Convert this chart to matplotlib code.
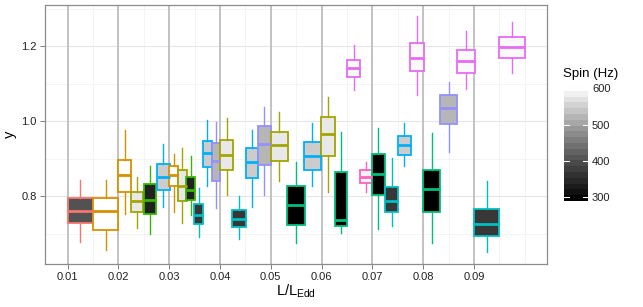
import matplotlib
matplotlib.use('Agg')
import matplotlib.pyplot as plt
from matplotlib.colors import ListedColormap, Normalize
import numpy as np

plt.rcParams['font.family'] = ['Liberation Sans', 'DejaVu Sans']
plt.rcParams['mathtext.default'] = 'regular'

# one colour (and spin) per source
group_colors = ['#F8766D', '#D89000', '#A3A500', '#39B600', '#00BF7D',
                '#00BFC4', '#00B0F6', '#9590FF', '#E76BF3', '#FF62BC']
group_spin = [401, 606, 581, 330, 290, 363, 549, 524, 600, 590]

# boxes, left to right
box_x = [0.0125, 0.0175, 0.0212, 0.0237, 0.0262, 0.0288, 0.0309, 0.0326,
         0.0342, 0.0358, 0.0375, 0.0392, 0.0413, 0.0438, 0.0463, 0.0487,
         0.0517, 0.0550, 0.0582, 0.0612, 0.0638, 0.0663, 0.0687, 0.0712,
         0.0738, 0.0763, 0.0788, 0.0817, 0.0850, 0.0884, 0.0925, 0.0975]
box_w = [0.0050, 0.0050, 0.0025, 0.0024, 0.0025, 0.0025, 0.0018, 0.0016,
         0.0018, 0.0018, 0.0018, 0.0017, 0.0026, 0.0027, 0.0025, 0.0026,
         0.0033, 0.0035, 0.0033, 0.0027, 0.0025, 0.0026, 0.0024, 0.0026,
         0.0026, 0.0026, 0.0026, 0.0034, 0.0035, 0.0035, 0.0049, 0.0050]
box_group = [0, 1, 1, 2, 3, 6, 1, 2, 3, 5, 6, 7, 2, 5, 6, 7,
             2, 4, 6, 2, 4, 8, 9, 4, 5, 6, 8, 4, 7, 8, 5, 8]
whis_lo = [0.679, 0.657, 0.753, 0.716, 0.699, 0.773, 0.758, 0.730,
           0.751, 0.693, 0.829, 0.769, 0.805, 0.686, 0.772, 0.805,
           0.840, 0.675, 0.827, 0.811, 0.702, 1.083, 0.813, 0.713,
           0.720, 0.880, 1.070, 0.677, 0.918, 1.087, 0.651, 1.128]
q1 = [0.729, 0.711, 0.811, 0.758, 0.753, 0.818, 0.829, 0.789,
      0.791, 0.727, 0.879, 0.842, 0.870, 0.718, 0.849, 0.883,
      0.895, 0.724, 0.870, 0.907, 0.720, 1.118, 0.837, 0.805,
      0.758, 0.910, 1.134, 0.758, 0.994, 1.130, 0.695, 1.168]
med = [0.762, 0.760, 0.857, 0.787, 0.791, 0.852, 0.856, 0.827,
       0.818, 0.751, 0.916, 0.894, 0.910, 0.740, 0.891, 0.940,
       0.936, 0.776, 0.907, 0.966, 0.736, 1.141, 0.853, 0.860,
       0.789, 0.936, 1.168, 0.820, 1.036, 1.160, 0.726, 1.199]
q3 = [0.796, 0.796, 0.898, 0.813, 0.834, 0.887, 0.880, 0.870,
      0.852, 0.780, 0.947, 0.943, 0.950, 0.764, 0.929, 0.989,
      0.972, 0.829, 0.945, 1.012, 0.865, 1.164, 0.870, 0.914,
      0.825, 0.960, 1.210, 0.871, 1.070, 1.190, 0.767, 1.226]
whis_hi = [0.845, 0.845, 0.976, 0.852, 0.882, 0.940, 0.913, 0.928,
           0.909, 0.822, 1.003, 0.998, 1.010, 0.800, 0.978, 1.039,
           1.026, 0.891, 0.996, 1.066, 0.972, 1.204, 0.891, 0.983,
           0.903, 0.996, 1.280, 0.968, 1.106, 1.240, 0.840, 1.266]

x_breaks = [0.01, 0.02, 0.03, 0.04, 0.05, 0.06, 0.07, 0.08, 0.09]
y_breaks = [0.8, 1.0, 1.2]
spin_breaks = [300, 400, 500, 600]


# black -> white, linear in L* like ggplot's gradient
def lstar_gray(f):
    L = 100.0 * f
    Y = ((L + 16) / 116) ** 3 if L > 8 else L / 903.3
    c = 1.055 * Y ** (1 / 2.4) - 0.055 if Y > 0.0031308 else 12.92 * Y
    return (c, c, c)


cmap = ListedColormap([lstar_gray(f) for f in np.linspace(0, 1, 256)])
norm = Normalize(vmin=min(group_spin), vmax=max(group_spin))

fig = plt.figure(figsize=(6.43, 3.07), dpi=100)
ax = fig.add_axes([0.070, 0.140, 0.7807, 0.8437])

ax.set_xlim(0.00553, 0.1044)
ax.set_ylim(0.62, 1.31)

# grid
for xv in [0.015, 0.025, 0.035, 0.045, 0.055, 0.065, 0.075, 0.085, 0.095, 0.10]:
    ax.axvline(xv, color='#f2f2f2', lw=0.6, zorder=0)
for yv in [0.7, 0.9, 1.1, 1.3]:
    ax.axhline(yv, color='#f2f2f2', lw=0.6, zorder=0)
for yv in y_breaks:
    ax.axhline(yv, color='#e6e6e6', lw=0.8, zorder=0)
for xv in x_breaks:
    ax.axvline(xv, color='#bdbdbd', lw=1.3, zorder=1)

# boxes
for i in range(len(box_x)):
    g = box_group[i]
    col = group_colors[g]
    stats = [dict(whislo=whis_lo[i], q1=q1[i], med=med[i], q3=q3[i],
                  whishi=whis_hi[i])]
    ax.bxp(stats, positions=[box_x[i]], widths=[box_w[i]],
           patch_artist=True, showfliers=False, showcaps=False,
           manage_ticks=False,
           boxprops=dict(facecolor=cmap(norm(group_spin[g])),
                         edgecolor=col, linewidth=1.3),
           medianprops=dict(color=col, linewidth=2.0,
                            solid_capstyle='butt'),
           whiskerprops=dict(color=col, linewidth=1.0),
           zorder=2)

ax.set_xticks(x_breaks)
ax.set_xticklabels(['%.2f' % v for v in x_breaks])
ax.set_yticks(y_breaks)
ax.set_yticklabels(['%.1f' % v for v in y_breaks])
ax.tick_params(axis='both', length=3.5, width=0.7, color='#7f7f7f',
               labelsize=8, labelcolor='#222222', pad=2.5)
for sp in ax.spines.values():
    sp.set_color('#8c8c8c')
    sp.set_linewidth(0.9)

ax.set_xlabel('L/L$_{Edd}$', fontsize=10.5, labelpad=0)
ax.set_ylabel('y', fontsize=10.5, labelpad=3)

# colourbar legend
cax = fig.add_axes([0.877, 0.345, 0.0373, 0.3746])
bins = np.linspace(norm.vmin, norm.vmax, 20)
cax.imshow(bins[::-1].reshape(-1, 1), cmap=cmap, norm=norm, aspect='auto',
           extent=[0, 1, norm.vmin, norm.vmax], interpolation='nearest')
cax.set_xlim(0, 1)
cax.set_ylim(norm.vmin, norm.vmax)
for s in spin_breaks:
    cax.plot([0, 0.2], [s, s], color='white', lw=0.8)
    cax.plot([0.8, 1], [s, s], color='white', lw=0.8)
cax.set_xticks([])
cax.yaxis.tick_right()
cax.set_yticks(spin_breaks)
cax.set_yticklabels([str(s) for s in spin_breaks])
cax.tick_params(axis='y', length=0, labelsize=8, labelcolor='#222222', pad=3)
for sp in cax.spines.values():
    sp.set_visible(False)
fig.text(0.8755, 0.758, 'Spin (Hz)', fontsize=9.5, ha='left', va='center')

fig.savefig('out.png', dpi=100, facecolor='white')
